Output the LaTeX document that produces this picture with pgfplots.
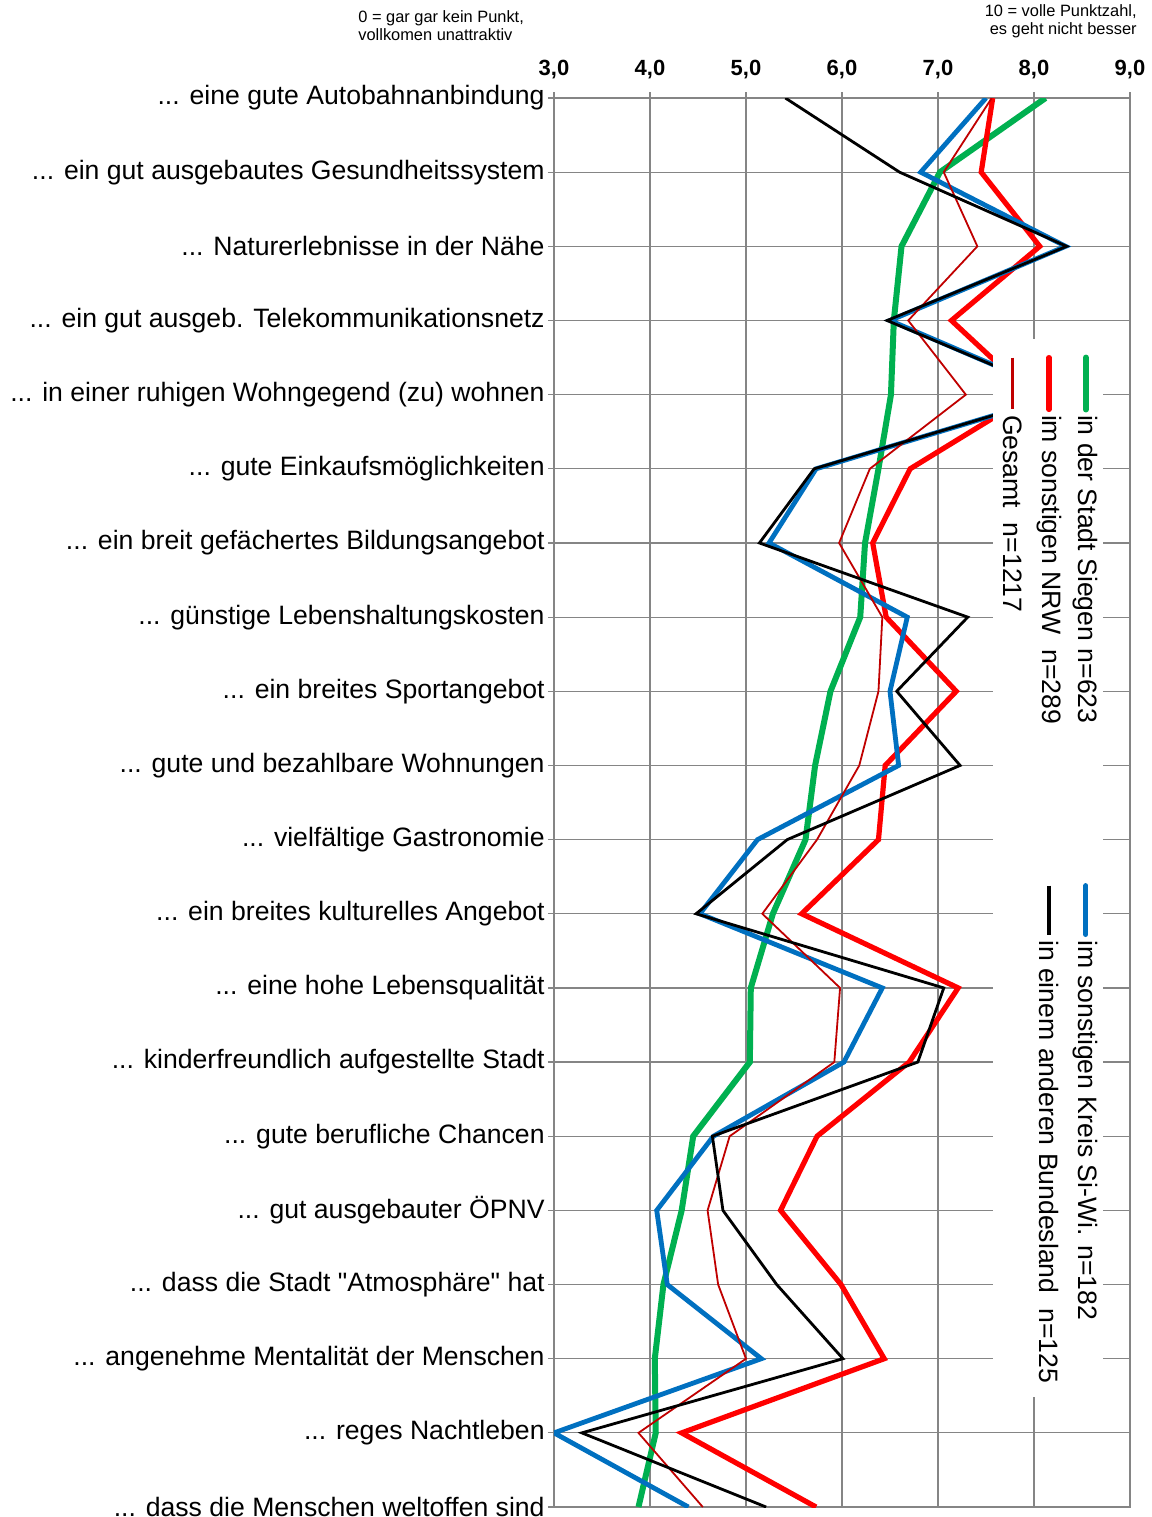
\documentclass[border=0pt]{standalone}
\usepackage{fontspec}
\setmainfont{Liberation Sans}
\newfontfamily\qfont{Liberation Sans}
\usepackage{pgfplots}
\pgfplotsset{compat=1.18}
\definecolor{cgreen}{HTML}{00B050}
\definecolor{cred}{HTML}{FF0000}
\definecolor{cblue}{HTML}{0070C0}
\definecolor{cdred}{HTML}{C00000}
\definecolor{cgrid}{HTML}{858585}
\newcommand{\lblfont}{\fontsize{13.3}{16}\selectfont}
\begin{document}
\begin{tikzpicture}[x=1pt,y=1pt]
\path[use as bounding box] (0,0) rectangle (576,-758.5);
\begin{axis}[
  at={(277pt,-49pt)}, anchor=north west,
  width=288pt, height=704.5pt, scale only axis,
  xmin=3, xmax=9, ymin=0, ymax=19, y dir=reverse,
  xtick={3,4,5,6,7,8,9},
  xticklabels={{3,0},{4,0},{5,0},{6,0},{7,0},{8,0},{9,0}},
  xtick pos=right, xticklabel pos=right,
  xticklabel style={font=\bfseries\fontsize{11}{13}\selectfont, inner sep=0pt, yshift=6.5pt},
  ytick={0,1,2,3,4,5,6,7,8,9,10,11,12,13,14,15,16,17,18,19},
  ytick pos=left,
  yticklabels={
    {.{}.{}. eine gute Autobahnanbindung},
    {.{}.{}. ein gut ausgebautes Gesundheitssystem},
    {.{}.{}. Naturerlebnisse in der Nähe},
    {.{}.{}. ein gut ausgeb. Telekommunikationsnetz},
    {.{}.{}. in einer ruhigen Wohngegend (zu) wohnen},
    {.{}.{}. gute Einkaufsmöglichkeiten},
    {.{}.{}. ein breit gefächertes Bildungsangebot},
    {.{}.{}. günstige Lebenshaltungskosten},
    {.{}.{}. ein breites Sportangebot},
    {.{}.{}. gute und bezahlbare Wohnungen},
    {.{}.{}. vielfältige Gastronomie},
    {.{}.{}. ein breites kulturelles Angebot},
    {.{}.{}. eine hohe Lebensqualität},
    {.{}.{}. kinderfreundlich aufgestellte Stadt},
    {.{}.{}. gute berufliche Chancen},
    {.{}.{}. gut ausgebauter ÖPNV},
    {.{}.{}. dass die Stadt {\qfont"}Atmosphäre{\qfont"} hat},
    {.{}.{}. angenehme Mentalität der Menschen},
    {.{}.{}. reges Nachtleben},
    {.{}.{}. dass die Menschen weltoffen sind}},
  yticklabel style={font=\lblfont, inner sep=0pt, anchor=east, xshift=-1.5pt},
  tick align=outside, major tick length=3pt,
  tick style={cgrid, line width=0.6pt},
  grid=major, grid style={cgrid, line width=0.6pt},
  axis line style={cgrid, line width=0.7pt},
  every axis plot/.append style={line join=miter, mark=none},
]
% Siegen (green)
\addplot[cgreen, line width=3pt] table[x=v, y=r] {
r v
0 8.12
1 7.02
2 6.62
3 6.54
4 6.51
5 6.38
6 6.24
7 6.19
8 5.88
9 5.72
10 5.62
11 5.28
12 5.05
13 5.04
14 4.45
15 4.33
16 4.14
17 4.05
18 4.06
19 3.88
};
% NRW (red)
\addplot[cred, line width=2.6pt] table[x=v, y=r] {
r v
0 7.57
1 7.45
2 8.06
3 7.14
4 7.97
5 6.71
6 6.32
7 6.46
8 7.19
9 6.45
10 6.38
11 5.58
12 7.21
13 6.70
14 5.74
15 5.36
16 5.99
17 6.44
18 4.33
19 5.73
};
% Kreis Si-Wi (blue)
\addplot[cblue, line width=2.4pt] table[x=v, y=r] {
r v
0 7.50
1 6.82
2 8.33
3 6.50
4 8.30
5 5.73
6 5.24
7 6.68
8 6.50
9 6.59
10 5.12
11 4.52
12 6.42
13 6.02
14 4.66
15 4.07
16 4.18
17 5.16
18 3.00
19 4.40
};
% Gesamt (dark red thin)
\addplot[cdred, line width=0.9pt] table[x=v, y=r] {
r v
0 7.56
1 7.06
2 7.41
3 6.69
4 7.29
5 6.29
6 5.97
7 6.42
8 6.38
9 6.18
10 5.74
11 5.17
12 5.98
13 5.92
14 4.83
15 4.60
16 4.71
17 5.00
18 3.88
19 4.55
};
% anderes Bundesland (black)
\addplot[black, line width=1.4pt] table[x=v, y=r] {
r v
0 5.41
1 6.60
2 8.34
3 6.47
4 8.30
5 5.71
6 5.14
7 7.31
8 6.57
9 7.23
10 5.43
11 4.48
12 7.06
13 6.79
14 4.65
15 4.76
16 5.32
17 6.01
18 3.29
19 5.21
};
% legend box
\fill[white] (axis cs:7.57,3.25) rectangle (axis cs:8.72,17.52);
\draw[cgreen, line width=3pt, line cap=round] (axis cs:8.54,3.5) -- (axis cs:8.54,4.2);
\draw[cred, line width=2.6pt, line cap=round] (axis cs:8.156,3.5) -- (axis cs:8.156,4.2);
\draw[cdred, line width=1.5pt] (axis cs:7.78,3.5) -- (axis cs:7.78,4.2);
\node[rotate=-90, anchor=west, inner sep=0pt, font=\lblfont] at (axis cs:8.54,4.27) {in der Stadt Siegen n=623};
\node[rotate=-90, anchor=west, inner sep=0pt, font=\lblfont] at (axis cs:8.156,4.27) {im sonstigen NRW\ \ n=289};
\node[rotate=-90, anchor=west, inner sep=0pt, font=\lblfont] at (axis cs:7.78,4.27) {Gesamt\ \ n=1217};
\draw[cblue, line width=2.5pt, line cap=round] (axis cs:8.54,10.62) -- (axis cs:8.54,11.28);
\draw[black, line width=2pt] (axis cs:8.156,10.62) -- (axis cs:8.156,11.28);
\node[rotate=-90, anchor=west, inner sep=0pt, font=\lblfont] at (axis cs:8.54,11.35) {im sonstigen Kreis Si-Wi. n=182};
\node[rotate=-90, anchor=west, inner sep=0pt, font=\lblfont] at (axis cs:8.156,11.35) {in einem anderen Bundesland\ \ n=125};
\end{axis}
\node[anchor=north west, align=left, inner sep=0pt, font=\fontsize{8.2}{9}\selectfont] at (179,-5) {0 = gar gar kein Punkt,\\vollkomen unattraktiv};
\node[anchor=north east, align=right, inner sep=0pt, font=\fontsize{8.2}{9}\selectfont] at (568.5,-2) {10 = volle Punktzahl,\\es geht nicht besser};
\end{tikzpicture}
\end{document}
